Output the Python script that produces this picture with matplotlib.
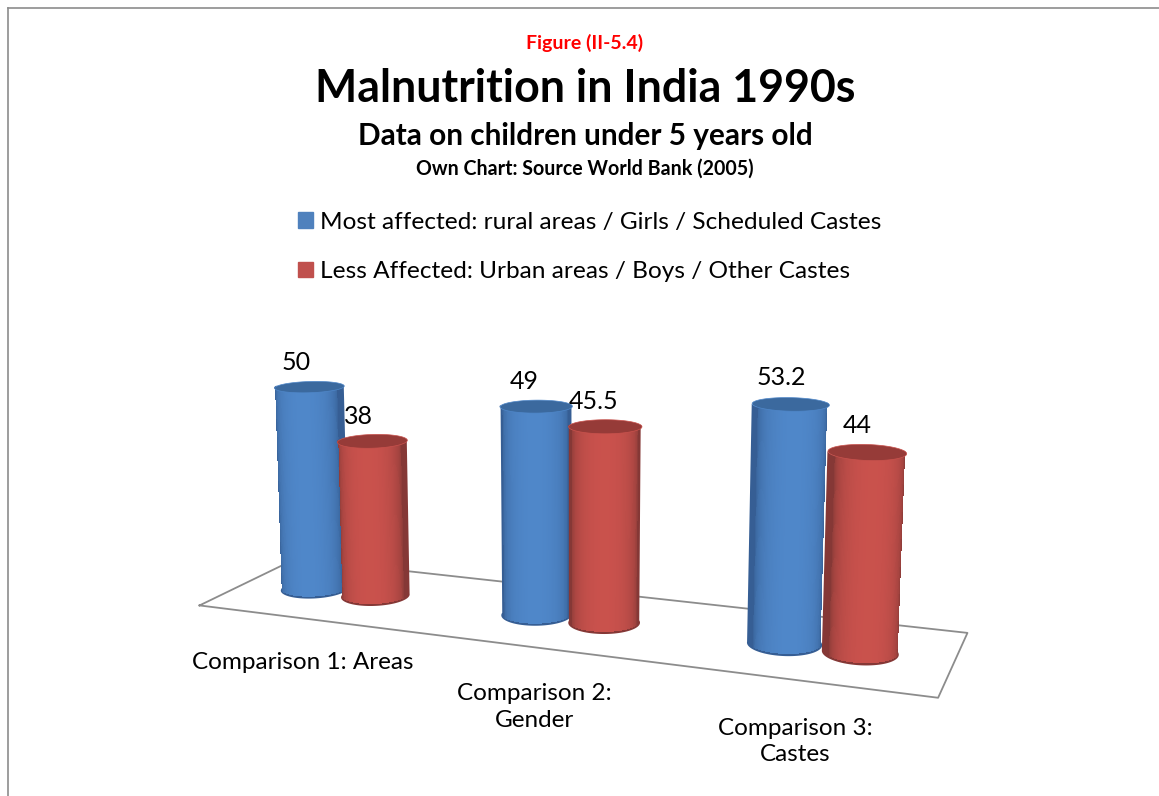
import numpy as np
import matplotlib
matplotlib.use('Agg')
import matplotlib.pyplot as plt
from matplotlib.lines import Line2D
from matplotlib.patches import Patch
from mpl_toolkits.mplot3d.art3d import Poly3DCollection

plt.rcParams['font.family'] = ['Lato', 'DejaVu Sans']

categories = ['Comparison 1: Areas', 'Comparison 2:\nGender', 'Comparison 3:\nCastes']
most_affected = [50, 49, 53.2]
less_affected = [38, 45.5, 44]
most_label = 'Most affected: rural areas / Girls / Scheduled Castes'
less_label = 'Less Affected: Urban areas / Boys / Other Castes'

W, H = 1159, 796
BLUE = dict(light=(0.31, 0.53, 0.79), dark=(0.21, 0.37, 0.58), top=(0.23, 0.41, 0.62))
RED = dict(light=(0.79, 0.32, 0.30), dark=(0.52, 0.22, 0.21), top=(0.59, 0.23, 0.22))
AZIM = -69
STRIP = 62  # half width of the shaded strips, degrees


def cylinder(ax, x, y, value, style, order):
    """Draw one shaded cylinder standing on the floor."""
    rx, ry = 0.142, 0.192
    light, dark = np.array(style['light']), np.array(style['dark'])

    # smooth dark body first, only the half that faces the camera
    angles = np.radians(np.linspace(AZIM - 100, AZIM + 100, 81))
    bx = x + rx * np.cos(angles)
    by = y + ry * np.sin(angles)
    outline = list(zip(bx, by, np.zeros_like(bx))) + \
        list(zip(bx[::-1], by[::-1], np.full_like(bx, value)))
    body = Poly3DCollection([outline], facecolor=dark, edgecolor='none')
    ax.add_collection3d(body)
    body.set_zorder(order - 0.25)

    # shaded strips on top, inside the body so their steps stay hidden
    theta = np.radians(np.linspace(AZIM - STRIP, AZIM + STRIP, 61))
    xs = x + rx * np.cos(theta)
    ys = y + ry * np.sin(theta)
    X = np.array([xs, xs])
    Y = np.array([ys, ys])
    Z = np.array([np.full_like(xs, 0.6), np.full_like(xs, value)])

    mid = (theta[:-1] + theta[1:]) / 2
    edge = np.cos(np.radians(STRIP))
    facing = np.clip((np.cos(mid - np.radians(AZIM)) - edge) / (1 - edge), 0, 1) ** 0.5
    rgb = dark + (light - dark) * facing[:, None]
    colors = np.column_stack([rgb, np.ones(len(mid))])[None, :, :]
    surf = ax.plot_surface(X, Y, Z, facecolors=colors, rstride=1, cstride=1,
                           shade=False, linewidth=0, antialiased=False)
    surf.set_zorder(order)

    ring = np.linspace(0, 2 * np.pi, 121)
    cap_x = x + rx * np.cos(ring)
    cap_y = y + ry * np.sin(ring)
    cap_z = np.full_like(ring, value)
    cap = Poly3DCollection([list(zip(cap_x, cap_y, cap_z))], facecolor=style['top'],
                           edgecolor=style['light'], linewidth=0.5)
    ax.add_collection3d(cap)
    cap.set_zorder(order + 0.5)


fig = plt.figure(figsize=(W / 100, H / 100), dpi=100)

# the 3d axes stays square, so it runs past the bottom of the figure
side = 882
ax = fig.add_axes([120 / W, -61 / H, side / W, side / H], projection='3d',
                  computed_zorder=False)
ax.set_proj_type('persp', focal_length=0.337)
ax.view_init(elev=10, azim=AZIM)
ax.set_box_aspect((1.528, 0.39, 0.89))
ax.set_xlim(0, 3, view_margin=0)
ax.set_ylim(0, 1, view_margin=0)
ax.set_zlim(0, 100, view_margin=0)
ax.set_axis_off()
ax.patch.set_visible(False)

ax.plot([0, 3, 3, 0, 0], [0, 0, 1, 1, 0], [0, 0, 0, 0, 0], color='#8c8c8c',
        linewidth=1.3, zorder=0.5)

y_bar = 0.5
order = 2
for i, (blue, red) in enumerate(zip(most_affected, less_affected)):
    centre = 0.466 + 1.022 * i
    cylinder(ax, centre - 0.145, y_bar, blue, BLUE, order)
    cylinder(ax, centre + 0.145, y_bar, red, RED, order + 1)
    order += 2
    shift = -0.06 + 0.012 * i
    ax.text(centre - 0.145 + shift, y_bar, blue + 5.5, f'{blue:g}', fontsize=18,
            ha='center', va='center', zorder=20)
    ax.text(centre + 0.145 + shift, y_bar, red + 5.5, f'{red:g}', fontsize=18,
            ha='center', va='center', zorder=20)
    ax.text(centre + 0.234 - 0.08 * i, -0.48, 0, categories[i], fontsize=17.5,
            ha='center', va='top', linespacing=1.3, zorder=20)

fig.text(585 / W, 1 - 43 / H, 'Figure (II-5.4)', color='#ff0000', fontsize=14,
         fontweight='bold', ha='center', va='center')
fig.text(585 / W, 1 - 89 / H, 'Malnutrition in India 1990s', fontsize=32.2,
         fontweight='bold', ha='center', va='center')
fig.text(585 / W, 1 - 136 / H, 'Data on children under 5 years old', fontsize=21.4,
         fontweight='bold', ha='center', va='center')
fig.text(585 / W, 1 - 169 / H, 'Own Chart: Source World Bank (2005)', fontsize=14.1,
         fontweight='bold', ha='center', va='center')

handles = [Patch(color='#4f81bd'), Patch(color='#c0504d')]
fig.legend(handles, [most_label, less_label], loc='upper left',
           bbox_to_anchor=(298 / W, 1 - 212 / H), frameon=False, fontsize=17.6,
           handlelength=0.62, handleheight=0.62, handletextpad=0.3,
           labelspacing=1.15, borderpad=0, borderaxespad=0)

frame = '#8c8c8c'
fig.add_artist(Line2D([8 / W, 8 / W], [0, 1 - 8 / H], color=frame, linewidth=1.2))
fig.add_artist(Line2D([8 / W, 1], [1 - 8 / H, 1 - 8 / H], color=frame, linewidth=1.2))

fig.savefig('out.png', dpi=100)
